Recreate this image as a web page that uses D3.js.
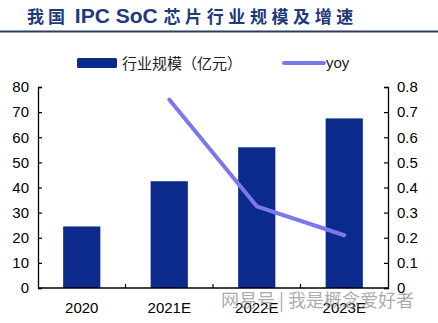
<!DOCTYPE html>
<html><head><meta charset="utf-8">
<script src="https://cdn.jsdelivr.net/npm/d3@7"></script>
<style>body{margin:0;background:#fff}svg{display:block}</style>
</head><body>
<script>
const categories = ["2020","2021E","2022E","2023E"];
const scaleValues = [24.5, 42.5, 56, 67.5];
const yoyValues = [null, 0.75, 0.325, 0.21];
const leftTicks = [0,10,20,30,40,50,60,70,80];
const rightTicks = [0,0.1,0.2,0.3,0.4,0.5,0.6,0.7,0.8];
const titleParts = ["我国", " IPC SoC ", "芯片行业规模及增速"];
const barLegend = "行业规模（亿元）";
const lineLegend = "yoy";
const watermark = "网易号 | 我是概念爱好者";

const W=438,H=323;
const svg=d3.select("body").append("svg").attr("width",W).attr("height",H);
const L=38,R=388,T=87,B=288;
const font="'Liberation Sans', Arial, sans-serif";
const cjk="'Noto Sans CJK SC', sans-serif";

// title
const tt=svg.append("text").attr("x",27).attr("y",23).attr("fill","#1f3a78").attr("font-weight","bold");
tt.append("tspan").attr("font-family",cjk).attr("font-size",17).attr("letter-spacing",4).text(titleParts[0]);
tt.append("tspan").attr("font-family",font).attr("font-size",21).attr("letter-spacing",0).text(titleParts[1]);
tt.append("tspan").attr("font-family",cjk).attr("font-size",17).attr("letter-spacing",4.6).text(titleParts[2]);
svg.append("line").attr("x1",0).attr("x2",W).attr("y1",31.5).attr("y2",31.5)
  .attr("stroke","#2a3f5f").attr("stroke-width",2);

const x=d3.scaleBand().domain(categories).range([L,R]).paddingInner(0.575).paddingOuter(0.2875);
const yL=d3.scaleLinear().domain([0,80]).range([B,T]);
const yR=d3.scaleLinear().domain([0,0.8]).range([B,T]);
const xb=d3.scaleBand().domain(categories).range([L,R]);

// bars
svg.append("g").selectAll("rect").data(categories).join("rect")
  .attr("x",d=>x(d)).attr("width",x.bandwidth())
  .attr("y",(d,i)=>yL(scaleValues[i])).attr("height",(d,i)=>B-yL(scaleValues[i]))
  .attr("fill","#0b2a8c");

// axes
const gl=svg.append("g").attr("transform",`translate(${L},0)`)
  .call(d3.axisLeft(yL).tickValues(leftTicks).tickSize(-4).tickPadding(9).tickFormat(d3.format("d")));
const gr=svg.append("g").attr("transform",`translate(${R},0)`)
  .call(d3.axisRight(yR).tickValues(rightTicks).tickSize(-4).tickPadding(9).tickFormat(d=>d===0?"0":d3.format(".1f")(d)));
const gb=svg.append("g").attr("transform",`translate(0,${B})`)
  .call(d3.axisBottom(xb).tickSize(0).tickPadding(14));
[gl,gr,gb].forEach(g=>{
  g.select(".domain").attr("stroke","#000").attr("stroke-width",1.3);
  g.selectAll(".tick line").attr("stroke","#000").attr("stroke-width",1.2);
  g.selectAll("text").attr("font-family",font).attr("font-size",15).attr("fill","#000");
});
gb.select(".domain").attr("d",`M${L},0H${R}`);
// category separator ticks
svg.append("g").selectAll("line").data(categories.slice(1)).join("line")
  .attr("x1",d=>xb(d)).attr("x2",d=>xb(d)).attr("y1",B).attr("y2",B-4)
  .attr("stroke","#000").attr("stroke-width",1.2);

// line
const pts=categories.map((c,i)=>({c,v:yoyValues[i]})).filter(d=>d.v!=null);
svg.append("path").datum(pts)
  .attr("d",d3.line().x(d=>xb(d.c)+xb.bandwidth()/2).y(d=>yR(d.v)))
  .attr("fill","none").attr("stroke","#7a78ec").attr("stroke-width",4).attr("stroke-linecap","round").attr("stroke-linejoin","round");

// legend
svg.append("rect").attr("x",77).attr("y",58).attr("width",40).attr("height",10).attr("rx",1.5).attr("fill","#0b2a8c");
svg.append("text").attr("x",122).attr("y",69).attr("font-family",cjk).attr("font-size",15).attr("fill","#222").text(barLegend);
svg.append("line").attr("x1",284).attr("x2",324).attr("y1",63).attr("y2",63).attr("stroke","#7a78ec").attr("stroke-width",4).attr("stroke-linecap","round");
svg.append("text").attr("x",326).attr("y",68).attr("font-family",font).attr("font-size",15).attr("fill","#222").text(lineLegend);

// watermark
svg.append("text").attr("x",221).attr("y",307).attr("font-family",cjk).attr("font-size",18)
  .attr("fill","#8a8a8a").attr("opacity",0.7).text(watermark);
</script>
</body></html>
